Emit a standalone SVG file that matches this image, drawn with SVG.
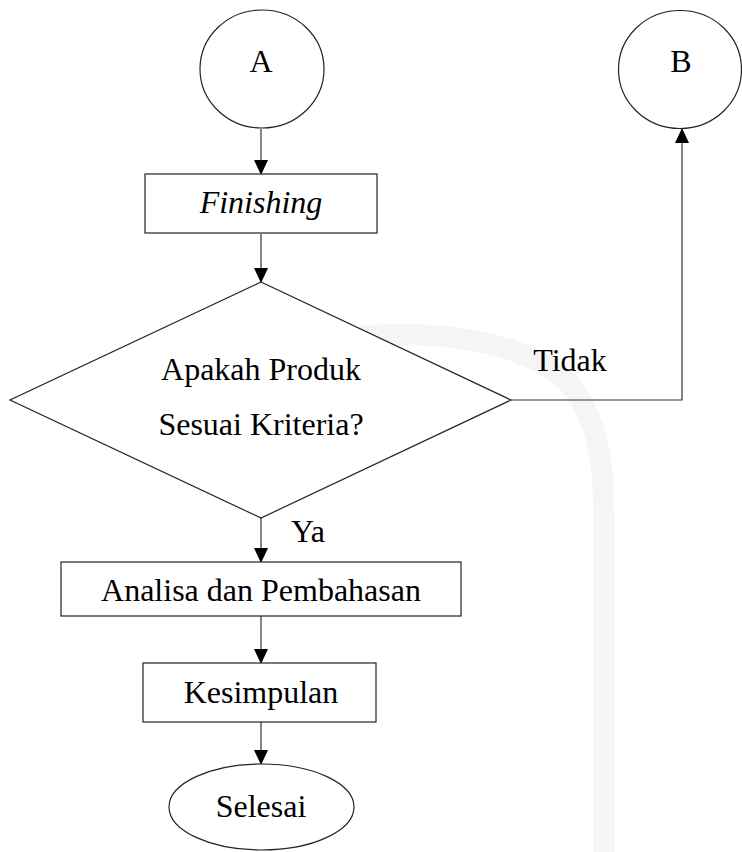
<svg xmlns="http://www.w3.org/2000/svg" width="742" height="852" viewBox="0 0 742 852">
  <defs>
    <marker id="arrow" markerWidth="15" markerHeight="16" refX="15" refY="7.5" orient="auto" markerUnits="userSpaceOnUse" viewBox="0 0 16 15">
      <path d="M0,0 L16,7.5 L0,15 Z" fill="#000"/>
    </marker>
  </defs>
  <style>
    .shape { fill: #fff; stroke: #222; stroke-width: 1.2; }
    .conn { fill: none; stroke: #333; stroke-width: 1.2; }
    .lbl { font-family: "Liberation Serif", "Times New Roman", serif; font-size: 32px; fill: #000; text-anchor: middle; }
    .wm { fill: none; stroke: #f5f5f5; stroke-width: 21; }
  </style>
  <rect width="742" height="852" fill="#fff"/>
  <g id="watermark">
    <path class="wm" d="M360,336 C440,330 525,340 570,385 C600,420 604,470 604,520 L604,852"/>
  </g>
  <g id="connectors">
    <line class="conn" x1="261" y1="129" x2="261" y2="174" marker-end="url(#arrow)"/>
    <line class="conn" x1="261" y1="234" x2="261" y2="282" marker-end="url(#arrow)"/>
    <polyline class="conn" points="511,400 682,400 682,129" marker-end="url(#arrow)"/>
    <line class="conn" x1="261" y1="518" x2="261" y2="562" marker-end="url(#arrow)"/>
    <line class="conn" x1="261" y1="616" x2="261" y2="663" marker-end="url(#arrow)"/>
    <line class="conn" x1="261" y1="722" x2="261" y2="764" marker-end="url(#arrow)"/>
    <text class="lbl" x="570" y="371">Tidak</text>
    <text class="lbl" x="308" y="542">Ya</text>
  </g>
  <g id="nodeA">
    <ellipse class="shape" cx="262" cy="69" rx="62" ry="59"/>
    <text class="lbl" x="261" y="72">A</text>
  </g>
  <g id="nodeB">
    <ellipse class="shape" cx="680" cy="69.5" rx="61.5" ry="59"/>
    <text class="lbl" x="681" y="72">B</text>
  </g>
  <g id="finishing">
    <rect class="shape" x="145" y="174" width="232" height="59"/>
    <text class="lbl" x="261" y="213" font-style="italic">Finishing</text>
  </g>
  <g id="decision">
    <polygon class="shape" points="261,282 511,400 261,518 10,400"/>
    <text class="lbl" x="261" y="380">Apakah Produk</text>
    <text class="lbl" x="261" y="435">Sesuai Kriteria?</text>
  </g>
  <g id="analisa">
    <rect class="shape" x="61" y="562" width="400" height="54"/>
    <text class="lbl" x="261" y="601">Analisa dan Pembahasan</text>
  </g>
  <g id="kesimpulan">
    <rect class="shape" x="143" y="663" width="233" height="59"/>
    <text class="lbl" x="261" y="703">Kesimpulan</text>
  </g>
  <g id="selesai">
    <ellipse class="shape" cx="261.5" cy="807" rx="92.5" ry="43"/>
    <text class="lbl" x="261" y="817">Selesai</text>
  </g>
</svg>
